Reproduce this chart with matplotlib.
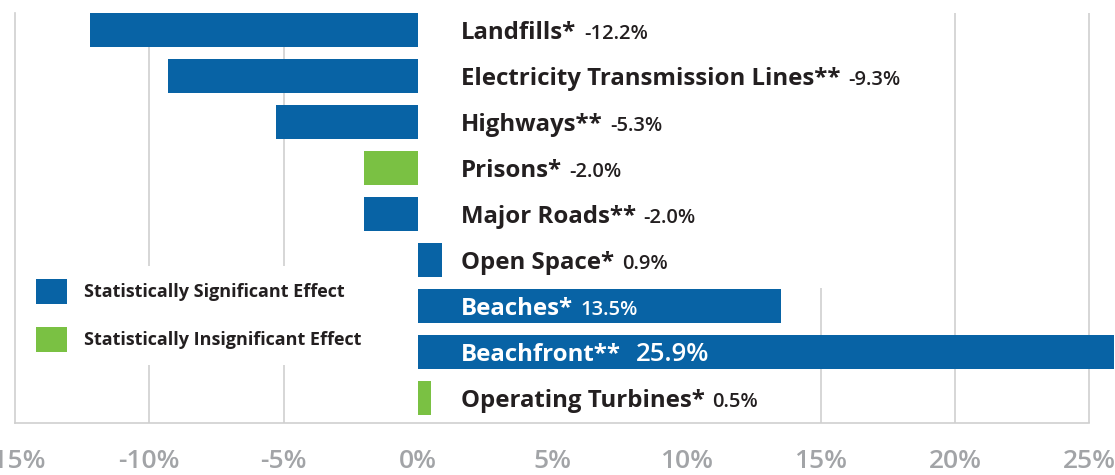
import matplotlib
matplotlib.use('Agg')
import matplotlib.pyplot as plt
from matplotlib.patches import Patch

plt.rcParams['font.family'] = ['Open Sans', 'DejaVu Sans']

# data
categories = ['Landfills*', 'Electricity Transmission Lines**', 'Highways**',
              'Prisons*', 'Major Roads**', 'Open Space*', 'Beaches*',
              'Beachfront**', 'Operating Turbines*']
effects = [-12.2, -9.3, -5.3, -2.0, -2.0, 0.9, 13.5, 25.9, 0.5]
value_labels = ['-12.2%', '-9.3%', '-5.3%', '-2.0%', '-2.0%', '0.9%',
                '13.5%', '25.9%', '0.5%']
significant = [True, True, True, False, True, True, True, True, False]
xticks = [-15, -10, -5, 0, 5, 10, 15, 20, 25]
xtick_labels = ['-15%', '-10%', '-5%', '0%', '5%', '10%', '15%', '20%', '25%']
legend_labels = ['Statistically Significant Effect',
                 'Statistically Insignificant Effect']

BLUE = '#0863a5'
GREEN = '#7ac143'
DARK = '#231f20'
GRID = '#cfcfcf'

fig = plt.figure(figsize=(11.15, 4.75), dpi=100)
ax = fig.add_axes([15 / 1115, 52 / 475, 1 - 15 / 1115, 410 / 475])

rows = list(range(len(categories)))
colors = [BLUE if s else GREEN for s in significant]
ax.barh(rows, effects, height=0.73, color=colors, zorder=2)

ax.set_xlim(-15, 25.95)
ax.set_ylim(len(categories) - 1 + 0.54, -0.37)

# gridlines (the one at 15% is hidden behind the label block above Beaches)
ylo, yhi = ax.get_ylim()
for x in [-10, -5, 20, 25]:
    ax.vlines(x, yhi, ylo, color=GRID, lw=1.2, zorder=0.5)
ax.vlines(15, 5.6, ylo, color=GRID, lw=1.2, zorder=0.5)

for side in ['top', 'right']:
    ax.spines[side].set_visible(False)
for side in ['left', 'bottom']:
    ax.spines[side].set_color(GRID)
    ax.spines[side].set_linewidth(1.2)
ax.spines['bottom'].set_bounds(-15, 25)

ax.set_yticks([])
ax.set_xticks(xticks)
ax.set_xticklabels(xtick_labels, fontsize=19, color='#a2a4a7',
                   fontweight='semibold')
ax.tick_params(axis='x', length=0, pad=19)

# category labels with their values
for i, (name, val) in enumerate(zip(categories, value_labels)):
    inside = effects[i] > 10
    col = 'white' if inside else DARK
    big = name.startswith('Beachfront')
    y = i + 0.19
    t = ax.text(1.6, y, name, fontsize=17.3, fontweight='bold', color=col,
                va='baseline', ha='left', zorder=3)
    ax.annotate(val, xy=(1, y), xycoords=(t, 'data'),
                xytext=(11 if big else 5.5, 0), textcoords='offset points',
                fontsize=18.5 if big else 14.5, fontweight='semibold',
                color=col, va='baseline', ha='left', zorder=3)

handles = [Patch(facecolor=BLUE), Patch(facecolor=GREEN)]
leg = ax.legend(handles, legend_labels, loc='upper left',
                bbox_to_anchor=(23 / 1115, 209 / 475),
                bbox_transform=fig.transFigure, borderaxespad=0,
                borderpad=0.7, handlelength=1.75, handleheight=1.75,
                handletextpad=0.95, labelspacing=1.3,
                frameon=True, fancybox=False, framealpha=1,
                facecolor='white', edgecolor='none',
                prop={'weight': 'bold', 'size': 13})
for txt in leg.get_texts():
    txt.set_color(DARK)

fig.savefig('out.png', dpi=100)
